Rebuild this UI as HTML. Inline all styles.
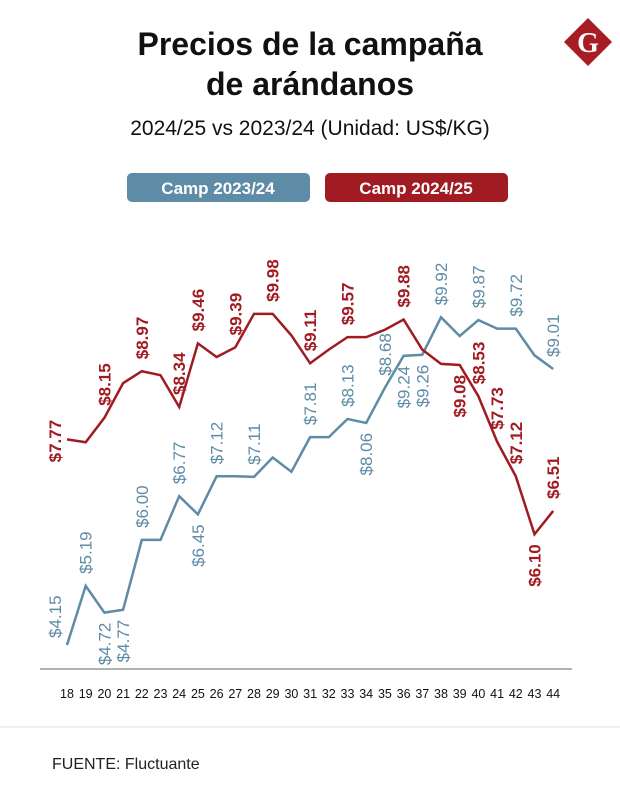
<!DOCTYPE html>
<html><head><meta charset="utf-8"><style>
body{margin:0;width:620px;height:804px;background:#fff;overflow:hidden;font-family:"Liberation Sans",sans-serif}
svg{display:block}
</style></head><body>
<svg width="620" height="804" viewBox="0 0 620 804">
<text x="310" y="55" text-anchor="middle" font-size="32" font-weight="bold" fill="#111">Precios de la campaña</text>
<text x="310" y="95" text-anchor="middle" font-size="32" font-weight="bold" fill="#111">de arándanos</text>
<text x="310" y="135" text-anchor="middle" font-size="21" fill="#111">2024/25 vs 2023/24 (Unidad: US$/KG)</text>
<g>
<rect x="571" y="25" width="34" height="34" fill="#a81c24" transform="rotate(45 588 42)"/>
<text x="588" y="52" text-anchor="middle" font-family="Liberation Serif,serif" font-weight="bold" font-size="28" fill="#fff">G</text>
</g>
<g>
<rect x="127" y="173" width="183" height="29" rx="5" fill="#5e8ba6"/>
<text x="218" y="194" text-anchor="middle" font-size="17" font-weight="bold" fill="#fff">Camp 2023/24</text>
</g>
<g>
<rect x="325" y="173" width="183" height="29" rx="5" fill="#a01c22"/>
<text x="416" y="194" text-anchor="middle" font-size="17" font-weight="bold" fill="#fff">Camp 2024/25</text>
</g>
<line x1="40" y1="669" x2="572" y2="669" stroke="#999" stroke-width="1.5"/>
<g id="ticks"></g>
<g id="plot"></g>
<line x1="0" y1="727" x2="620" y2="727" stroke="#ddd" stroke-width="1"/>
<text x="52" y="769" font-size="16" fill="#222">FUENTE: Fluctuante</text>
</svg>
<script>
const weeks=[18,19,20,21,22,23,24,25,26,27,28,29,30,31,32,33,34,35,36,37,38,39,40,41,42,43,44];
const blueValues=[4.15,5.19,4.72,4.77,6.00,6.00,6.77,6.45,7.12,7.12,7.11,7.45,7.20,7.81,7.81,8.13,8.06,8.68,9.24,9.26,9.92,9.59,9.87,9.72,9.72,9.25,9.01];
const redValues=[7.77,7.72,8.15,8.76,8.97,8.90,8.34,9.46,9.22,9.39,9.98,9.98,9.60,9.11,9.35,9.57,9.57,9.70,9.88,9.35,9.10,9.08,8.53,7.73,7.12,6.10,6.51];
const blueLabelWeeks=[18,19,20,21,22,24,25,26,28,31,33,34,35,36,37,38,40,42,44];
const blueLabelBelow=[0,0,1,1,0,0,1,0,0,0,0,1,0,1,1,0,0,0,0];
const redLabelWeeks=[18,20,22,24,25,27,29,31,33,36,39,40,41,42,43,44];
const redLabelBelow=[0,0,0,0,0,0,0,0,0,0,1,0,0,0,1,0];
const xTicks=weeks;
const NS="http://www.w3.org/2000/svg";
function xs(w){return 67+(w-18)*18.7;}
function ys(v){return 645-(v-4.15)*56.8;}
const plot=document.getElementById('plot');
const ticks=document.getElementById('ticks');
xTicks.forEach(w=>{
 const t=document.createElementNS(NS,'text');
 t.setAttribute('x',xs(w));t.setAttribute('y',698);t.setAttribute('text-anchor','middle');
 t.setAttribute('font-size','12.5');t.setAttribute('fill','#111');t.textContent=w;
 
 
 ticks.appendChild(t);
});
function series(vals,color,name){
 const p=document.createElementNS(NS,'polyline');
 p.setAttribute('points',weeks.map((w,i)=>xs(w)+','+ys(vals[i])).join(' '));
 p.setAttribute('fill','none');p.setAttribute('stroke',color);p.setAttribute('stroke-width','2.5');
 p.setAttribute('stroke-linejoin','miter');
 
 
 plot.appendChild(p);
}
function labels(lw,below,vals,color,name,bold){
 lw.forEach((w,k)=>{
  const i=weeks.indexOf(w);
  let x=xs(w)+6,y=ys(vals[i]);
  if(w===18&&name==='red-value-label'){x-=12;y+=35;}
  if(w===18&&name==='blue-value-label'){x-=12;y+=5;}
  const t=document.createElementNS(NS,'text');
  const yy=below[k]?y+10:y-12;
  t.setAttribute('transform','translate('+x+','+yy+') rotate(-90)');
  t.setAttribute('text-anchor',below[k]?'end':'start');
  t.setAttribute('font-size','17');
  if(bold)t.setAttribute('font-weight','bold');
  t.setAttribute('fill',color);
  t.textContent='$'+vals[i].toFixed(2);
  
  
  plot.appendChild(t);
 });
}
series(blueValues,'#5e8ba6','line-2023-24');
series(redValues,'#a01c22','line-2024-25');
labels(blueLabelWeeks,blueLabelBelow,blueValues,'#5e8ba6','blue-value-label',false);
labels(redLabelWeeks,redLabelBelow,redValues,'#a01c22','red-value-label',true);
</script>
</body></html>
